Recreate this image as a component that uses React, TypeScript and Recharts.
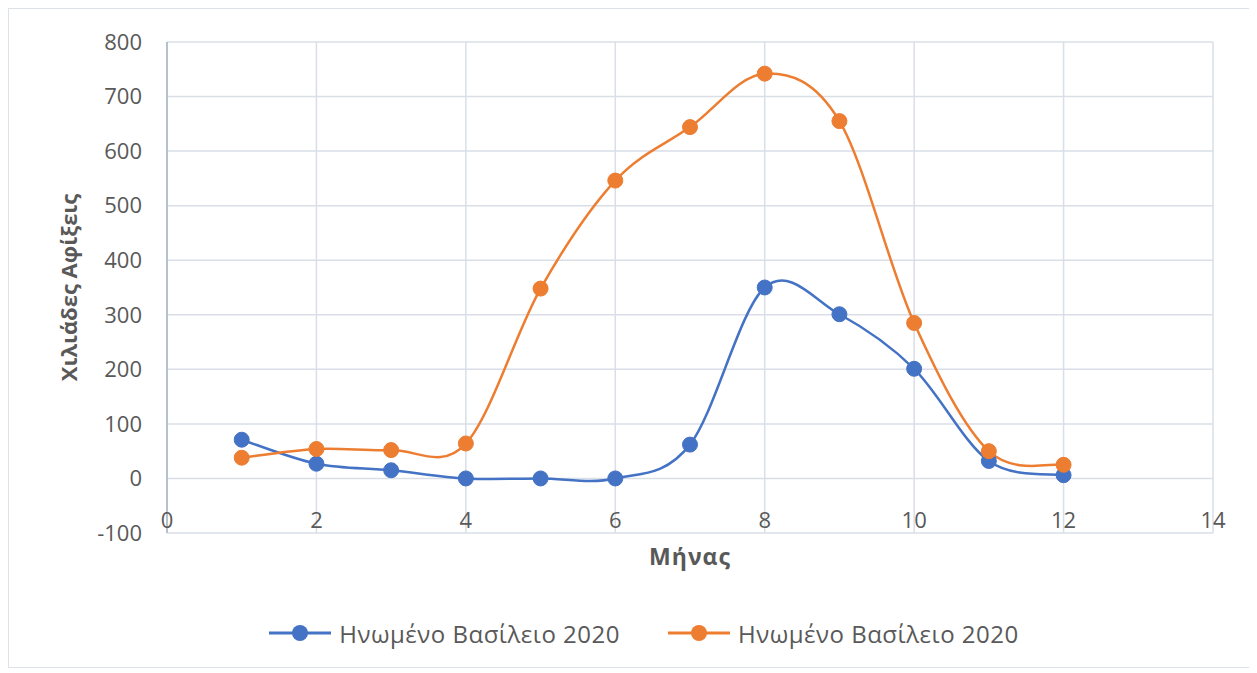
import React from 'react';
import {
  LineChart, Line, XAxis, YAxis, CartesianGrid, Legend,
} from 'recharts';

const months = [1, 2, 3, 4, 5, 6, 7, 8, 9, 10, 11, 12];
const ukBlue = [71, 27, 15, 0, 0, 0, 62, 350, 301, 201, 32, 6];
const ukOrange = [38, 54, 52, 64, 348, 546, 644, 742, 655, 285, 50, 25];
const xTicks = [0, 2, 4, 6, 8, 10, 12, 14];
const yTicks = [-100, 0, 100, 200, 300, 400, 500, 600, 700, 800];
const seriesName = 'Ηνωμένο Βασίλειο 2020';

const BLUE = '#4472C4';
const ORANGE = '#ED7D31';
const TEXT = '#595959';
const FONT = '"Open Sans", sans-serif';

const data = months.map((m, i) => ({ month: m, blue: ukBlue[i], orange: ukOrange[i] }));

// Excel-like smoothed line (Catmull-Rom through the points)
function excelSmooth(context: any) {
  let pts: number[][] = [];
  return {
    areaStart() {},
    areaEnd() {},
    lineStart() { pts = []; },
    point(x: number, y: number) { pts.push([+x, +y]); },
    lineEnd() {
      if (!pts.length) return;
      context.moveTo(pts[0][0], pts[0][1]);
      for (let i = 0; i < pts.length - 1; i++) {
        const p0 = pts[i - 1] || pts[i];
        const p1 = pts[i];
        const p2 = pts[i + 1];
        const p3 = pts[i + 2] || pts[i + 1];
        context.bezierCurveTo(
          p1[0] + (p2[0] - p0[0]) / 6, p1[1] + (p2[1] - p0[1]) / 6,
          p2[0] - (p3[0] - p1[0]) / 6, p2[1] - (p3[1] - p1[1]) / 6,
          p2[0], p2[1],
        );
      }
    },
  };
}

const XTick = ({ x, y, payload }: any) => (
  <text x={x} y={y - 14} textAnchor="middle" dominantBaseline="central" fill={TEXT} fontSize={22} fontFamily={FONT}>
    {payload.value}
  </text>
);

const LegendContent = ({ payload }: any) => (
  <div style={{ display: 'flex', justifyContent: 'center', alignItems: 'center', height: 40, gap: 48, paddingLeft: 66, fontFamily: FONT }}>
    {(payload || []).map((p: any, i: number) => (
      <div key={i} style={{ display: 'flex', alignItems: 'center' }}>
        <svg width={62} height={20} style={{ marginRight: 8 }}>
          <line x1={0} y1={10} x2={62} y2={10} stroke={p.color} strokeWidth={3} />
          <circle cx={31} cy={10} r={8} fill={p.color} />
        </svg>
        <span style={{ color: TEXT, fontSize: 24, letterSpacing: 0.5 }}>{p.value}</span>
      </div>
    ))}
  </div>
);

export default function App() {
  return (
    <div style={{ width: 1240, height: 658, border: '1px solid #dde1e8' }}>
      <LineChart width={1240} height={658} data={data} margin={{ top: 33, right: 36, left: 0, bottom: 14 }}>
        <CartesianGrid stroke="#d9dee7" strokeWidth={1.5} />
        <XAxis
          dataKey="month"
          type="number"
          domain={[0, 14]}
          ticks={xTicks}
          height={80}
          tickSize={0}
          tickMargin={0}
          axisLine={false}
          tickLine={false}
          tick={<XTick />}
          label={{
            content: ({ viewBox }: any) => (
              <text x={viewBox.x + viewBox.width / 2} y={viewBox.y + 23} textAnchor="middle" dominantBaseline="central"
                fill={TEXT} fontSize={23} fontWeight="bold" fontFamily={FONT} letterSpacing={1}>Μήνας</text>
            ),
          }}
        />
        <YAxis
          type="number"
          domain={[-100, 800]}
          ticks={yTicks}
          width={158}
          tickSize={0}
          tickMargin={25}
          tickLine={false}
          axisLine={{ stroke: '#b7c0cf', strokeWidth: 2 }}
          tick={{ fill: TEXT, fontSize: 22, fontFamily: FONT }}
          label={{
            content: ({ viewBox }: any) => {
              const cx = viewBox.x + 59;
              const cy = viewBox.y + viewBox.height / 2;
              return (
                <text x={cx} y={cy} transform={`rotate(-90 ${cx} ${cy})`} textAnchor="middle" dominantBaseline="central"
                  fill={TEXT} fontSize={22} fontWeight="bold" fontFamily={FONT}>Χιλιάδες Αφίξεις</text>
              );
            },
          }}
        />
        <Legend verticalAlign="bottom" content={<LegendContent />} />
        <Line
          dataKey="blue"
          name={seriesName}
          type={excelSmooth as any}
          stroke={BLUE}
          strokeWidth={2.5}
          dot={{ r: 7.5, fill: BLUE, stroke: BLUE, strokeWidth: 1 }}
          activeDot={false}
          isAnimationActive={false}
        />
        <Line
          dataKey="orange"
          name={seriesName}
          type={excelSmooth as any}
          stroke={ORANGE}
          strokeWidth={2.5}
          dot={{ r: 7.5, fill: ORANGE, stroke: ORANGE, strokeWidth: 1 }}
          activeDot={false}
          isAnimationActive={false}
        />
      </LineChart>
    </div>
  );
}
